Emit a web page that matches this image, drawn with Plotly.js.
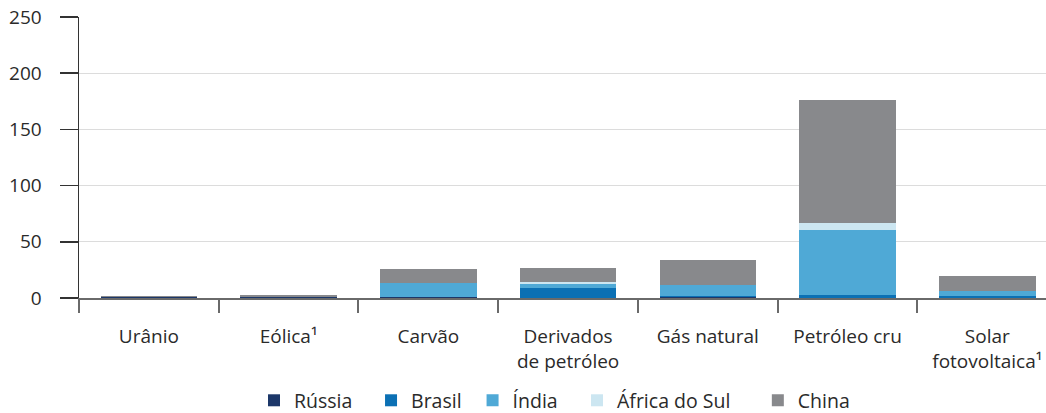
<!DOCTYPE html>
<html>
<head>
<meta charset="utf-8">
<script src="https://cdn.plot.ly/plotly-3.0.1.min.js"></script>
<style>html,body{margin:0;padding:0;background:#fff;}#chart{width:1046px;height:413px;}</style>
</head>
<body>
<div id="chart"></div>
<script>
var categories = ["Urânio", "Eólica¹", "Carvão", "Derivados<br>de petróleo", "Gás natural", "Petróleo cru", "Solar<br>fotovoltaica¹"];
var seriesNames = ["Rússia", "Brasil", "Índia", "África do Sul", "China"];
var russia  = [0.8, 1.3, 1.2, 0.3, 0.5, 0.3, 0.2];
var brasil  = [0, 0, 0, 8.5, 1.5, 2.8, 1.3];
var india   = [0, 0, 11.8, 3.5, 9.4, 57.8, 4.5];
var africa  = [0, 0, 0.5, 1.5, 0, 6.0, 0];
var china   = [1.4, 1.8, 11.9, 13.3, 22.0, 109.4, 14.0];
var yTicks = [0, 50, 100, 150, 200, 250];

var seriesValues = [russia, brasil, india, africa, china];
var colors = ["#1c3769", "#0b70b4", "#4fa9d6", "#cce6f1", "#88898c"];
var legendIds = ["legend", "legend2", "legend3", "legend4", "legend5"];
var legendX = [0.181, 0.302, 0.407, 0.515, 0.702];

var traces = seriesNames.map(function (name, i) {
  return {
    type: "bar",
    name: name,
    x: categories,
    y: seriesValues[i],
    legend: legendIds[i],
    marker: {color: colors[i], line: {width: 0}},
    hoverinfo: "x+y+name"
  };
});

var layout = {
  width: 1046,
  height: 413,
  barmode: "stack",
  bargap: 0.31,
  paper_bgcolor: "#ffffff",
  plot_bgcolor: "#ffffff",
  font: {family: "Open Sans, Noto Sans, sans-serif", size: 19, color: "#2a2a2a"},
  margin: {l: 79, r: 0, t: 17, b: 114.5, pad: 0, autoexpand: false},
  showlegend: true,
  xaxis: {
    type: "category",
    range: [-0.5, 6.42],
    tickson: "boundaries",
    ticks: "outside",
    ticklen: 13,
    tickwidth: 2,
    tickcolor: "#6a6a6a",
    showline: true,
    linecolor: "#6a6a6a",
    linewidth: 2,
    showgrid: false,
    zeroline: false,
    ticklabelstandoff: 20,
    tickfont: {size: 19, color: "#2a2a2a"},
    fixedrange: true
  },
  yaxis: {
    range: [0, 250],
    tickvals: yTicks,
    ticktext: yTicks.map(String),
    ticks: "outside",
    ticklen: 18,
    tickwidth: 1.5,
    tickcolor: "#333333",
    showline: true,
    linecolor: "#333333",
    linewidth: 1.5,
    showgrid: true,
    gridcolor: "#dcdcdc",
    gridwidth: 1,
    zeroline: false,
    ticklabelstandoff: 14,
    tickfont: {size: 19, color: "#2a2a2a"},
    fixedrange: true
  }
};

legendIds.forEach(function (id, i) {
  layout[id] = {
    orientation: "h",
    xref: "paper", x: legendX[i], xanchor: "left",
    yref: "container", y: 0.03, yanchor: "middle",
    font: {size: 19.5, color: "#2a2a2a"},
    bgcolor: "rgba(0,0,0,0)",
    itemwidth: 30
  };
});

Plotly.newPlot("chart", traces, layout, {displayModeBar: false, staticPlot: true});
</script>
</body>
</html>
